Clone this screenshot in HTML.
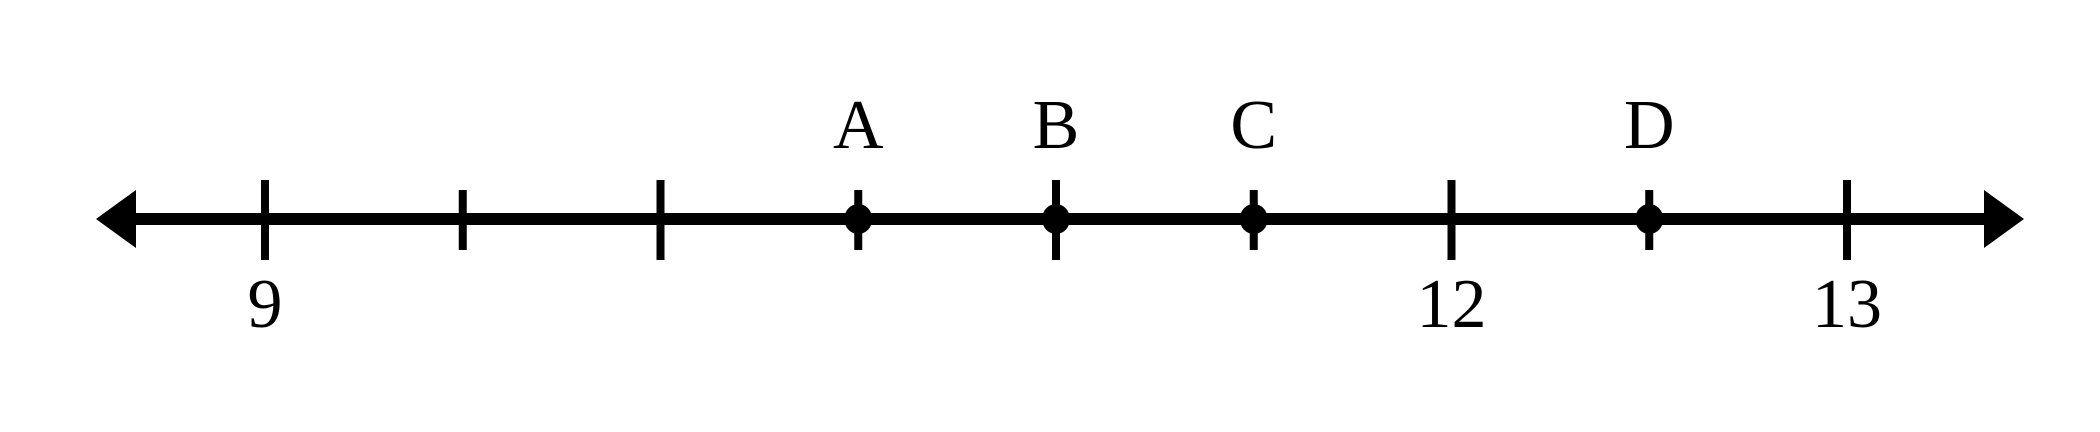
<!DOCTYPE html>
<html><head><meta charset="utf-8"><style>
html,body{margin:0;padding:0;background:#fff;}
svg{display:block;}
text{font-family:"Liberation Serif","Times New Roman",serif;font-size:70px;fill:#000;}
</style></head><body>
<svg id="chart" width="2100" height="432" viewBox="0 0 2100 432" xmlns="http://www.w3.org/2000/svg">
<polygon points="96,219 136,190 136,248" fill="#000"/>
<polygon points="2024,219 1984,190 1984,248" fill="#000"/>
<rect x="130" y="213" width="1860" height="12" fill="#000"/>
<g id="ticks"></g><g id="pts"></g><g id="labels"></g>
</svg>
<script>
const tickValues = [9, 9.5, 10, 10.5, 11, 11.5, 12, 12.5, 13];
const majorTicks = [9, 10, 11, 12, 13];
const tickLabels = ["9", "12", "13"];
const tickLabelValues = [9, 12, 13];
const pointNames = ["A", "B", "C", "D"];
const pointValues = [10.5, 11, 11.5, 12.5];
const NS = "http://www.w3.org/2000/svg";
function x(v){ return 265 + (v - 9) * 395.5; }
const tg = document.getElementById('ticks');
tickValues.forEach(v=>{
  const major = majorTicks.includes(v);
  const r = document.createElementNS(NS,'rect');
  r.setAttribute('x', x(v)-4); r.setAttribute('width', 8);
  r.setAttribute('y', major?180:190); r.setAttribute('height', major?80:60);
  r.setAttribute('fill','#000');
  
  
  tg.appendChild(r);
});
const pg = document.getElementById('pts');
pointValues.forEach((v,i)=>{
  const e = document.createElementNS(NS,'ellipse');
  e.setAttribute('cx', x(v)); e.setAttribute('cy', 219);
  e.setAttribute('rx', 14); e.setAttribute('ry', 15); e.setAttribute('fill','#000');
  
  
  pg.appendChild(e);
  const t = document.createElementNS(NS,'text');
  t.setAttribute('x', x(v)); t.setAttribute('y', 148); t.setAttribute('text-anchor','middle');
  t.textContent = pointNames[i];
  
  
  pg.appendChild(t);
});
const lg = document.getElementById('labels');
tickLabelValues.forEach((v,i)=>{
  const t = document.createElementNS(NS,'text');
  t.setAttribute('x', x(v)); t.setAttribute('y', 327); t.setAttribute('text-anchor','middle');
  t.textContent = tickLabels[i];
  
  
  lg.appendChild(t);
});
</script>
</body></html>
